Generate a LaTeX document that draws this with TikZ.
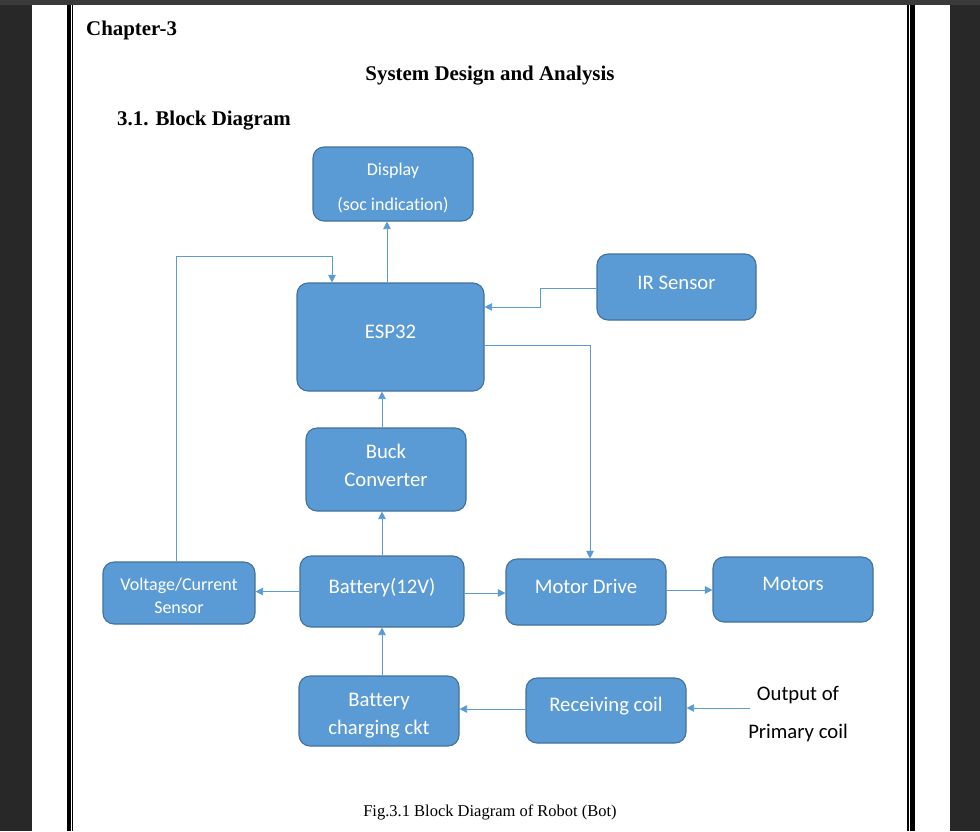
\documentclass[tikz,border=0pt]{standalone}
\usepackage{fontspec}
\setmainfont{Liberation Serif}
\newfontfamily\calib[Ligatures=CommonOff]{Carlito}
\usetikzlibrary{arrows.meta}
\definecolor{boxfill}{HTML}{5B9BD5}
\definecolor{boxline}{HTML}{41719C}
\definecolor{darkbg}{HTML}{282828}
\definecolor{topbg}{HTML}{3A3A3A}
\newcommand{\twolines}[4]{\raisebox{#1}[0pt][0pt]{\parbox{148pt}{\centering\baselineskip=#2\relax #3\\#4}}}
\tikzset{
  blk/.style={draw=boxline, fill=boxfill, line width=1.1pt, rounded corners=11pt,
    text=white, align=center, inner sep=0pt, font=\calib\fontsize{20.7}{25}\selectfont},
  blksmall/.style={blk, font=\calib\fontsize{18}{22}\selectfont},
  arr/.style={draw=boxfill, line width=0.8pt, -{Triangle[length=7.5pt,width=7.5pt]}},
  head/.style={inner sep=0pt, font=\fontsize{20.9}{24}\selectfont\bfseries},
}
\begin{document}
\begin{tikzpicture}[x=1pt,y=-1pt]
\useasboundingbox (0,0) rectangle (980,831);
% page background
\fill[darkbg] (0,0) rectangle (980,831);
\fill[white] (32,5) rectangle (950,831);
\fill[topbg] (0,0) rectangle (980,5);
% page borders
\fill[black] (66.7,5) rectangle (71.3,831);
\fill[black] (72.1,5) rectangle (73.3,831);
\fill[black] (907,5) rectangle (909,831);
\fill[black] (910,5) rectangle (915,831);
% headings
\node[head, anchor=west] (chap) at (86,30) {Chapter-3};
\node[head] (title) at (490,75.5) {System Design and Analysis};
\node[head, anchor=west] (sec) at (117,121) {3.1. Block Diagram};
\node[inner sep=0pt, font=\fontsize{16.5}{19}\selectfont] (cap) at (490,812.5) {Fig.3.1 Block Diagram of Robot (Bot)};
% blocks
\node[blksmall, minimum width=160pt, minimum height=74pt] (disp) at (393,184) {\twolines{-8.5pt}{35pt}{Display}{(soc indication)}};
\node[blk, minimum width=187pt, minimum height=108pt] (esp) at (390.5,337) {\raisebox{10pt}{ESP32}};
\node[blk, minimum width=159pt, minimum height=66pt] (ir) at (676.5,287) {\raisebox{8pt}{IR Sensor}};
\node[blk, minimum width=160pt, minimum height=83pt] (buck) at (386,469.5) {\twolines{-1.2pt}{28pt}{Buck}{Converter}};
\node[blksmall, minimum width=152pt, minimum height=62pt] (vc) at (179,593) {\twolines{-7.5pt}{23pt}{Voltage/Current}{Sensor}};
\node[blk, minimum width=164pt, minimum height=71pt] (bat) at (382,591.5) {\raisebox{11.5pt}{Battery(12V)}};
\node[blk, minimum width=160pt, minimum height=66pt] (md) at (586,592) {\raisebox{12pt}{Motor Drive}};
\node[blk, minimum width=160pt, minimum height=65pt] (mot) at (793,589.5) {\raisebox{10.5pt}{Motors}};
\node[blk, minimum width=160pt, minimum height=70pt] (bcc) at (379,711) {\twolines{-10.2pt}{28pt}{Battery}{charging ckt}};
\node[blk, minimum width=160pt, minimum height=65pt] (rc) at (606,710.5) {\raisebox{12.5pt}{Receiving coil}};
\node[inner sep=0pt, align=center, font=\calib\fontsize{20.7}{38}\selectfont] (out) at (798,714.5) {Output of\\Primary coil};
\coordinate (outend) at (750,708);
% connectors
\draw[arr] ([xshift=-3.5pt]esp.north) -- ([xshift=-3.5pt]esp.north |- disp.south);
\draw[arr] ([xshift=-3pt]vc.north) -- ++(0,-305) -| ([xshift=-58.5pt]esp.north);
\draw[arr] ([yshift=-1pt]ir.west) -- ++(-56,0) |- ([yshift=30pt]esp.east);
\draw[arr] ([yshift=-8pt]esp.east) -| ([xshift=4pt]md.north);
\draw[arr] ([xshift=-4pt]buck.north) -- ([xshift=-4pt]buck.north |- esp.south);
\draw[arr] (bat.north) -- (bat.north |- buck.south);
\draw[arr] (bat.west) -- (bat.west -| vc.east);
\draw[arr] ([yshift=-1.5pt]bat.east) -- ([yshift=-1.5pt]bat.east -| md.west);
\draw[arr] ([yshift=2pt]md.east) -- ([yshift=2pt]md.east -| mot.west);
\draw[arr] ([xshift=3pt]bcc.north) -- ([xshift=3pt]bcc.north |- bat.south);
\draw[arr] ([yshift=1.5pt]rc.west) -- ([yshift=1.5pt]rc.west -| bcc.east);
\draw[arr] (outend) -- (outend -| rc.east);
\end{tikzpicture}
\end{document}
